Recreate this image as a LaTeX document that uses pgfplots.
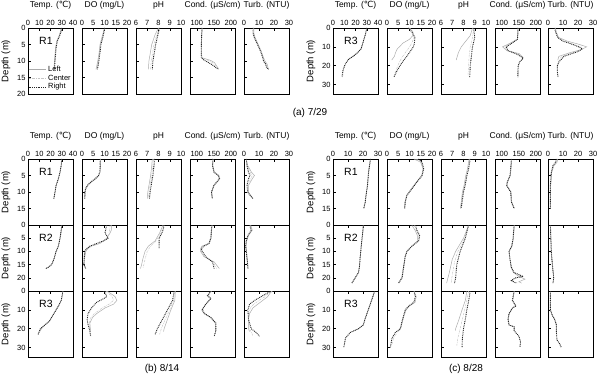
\documentclass[border=0pt]{standalone}
\usepackage{fontspec}
\setmainfont{Liberation Sans}
\newfontfamily\dejavu{DejaVu Sans}
\usepackage{pgfplots}
\pgfplotsset{compat=1.18}
\tikzset{rl/.style={font=\fontsize{10.5}{10.5}\selectfont, anchor=west}}
\pgfplotsset{
  panel/.style={scale only axis, width=45pt, height=66pt, anchor=north west,
    y dir=reverse, ymin=0, axis line style={black, line width=0.6pt},
    tick align=inside, major tick length=3pt, xtick pos=right, xticklabel pos=right,
    ytick pos=left, tick style={black, line width=0.5pt},
    ticklabel style={font=\fontsize{7.5}{7.5}\selectfont},
    /pgf/number format/assume math mode=true,
    title style={font=\fontsize{8.5}{8.5}\selectfont, at={(0.5,1)}, anchor=south, yshift=12.5pt, inner sep=0pt},
    ylabel style={font=\fontsize{9.5}{9.5}\selectfont},
    xticklabel style={yshift=-1pt}, yticklabel style={xshift=1pt}},
  nox/.style={xticklabels={}},
  noy/.style={yticklabels={}},
  T40/.style={xmin=0,xmax=40,xtick={0,10,20,30,40}},
  T30/.style={xmin=0,xmax=30,xtick={0,10,20,30}},
  DO/.style={xmin=0,xmax=20,xtick={0,5,10,15,20}},
  PH/.style={xmin=6,xmax=10,xtick={6,7,8,9,10}},
  CO/.style={xmin=80,xmax=212,xtick={100,150,200}},
  TU/.style={xmin=0,xmax=30,xtick={0,10,20,30}},
  ra/.style={ymax=20, ytick={0,5,10,15,20}},
  r1/.style={ymax=20, ytick={0,5,10,15}},
  r2/.style={ymax=25, ytick={0,5,10,15,20}},
  r3/.style={ymax=35, ytick={0,10,20,30}},
  L/.style={no marks, gray!65, line width=0.5pt},
  C/.style={no marks, gray!45, line width=0.5pt, dash pattern=on 2pt off 1pt on 0.5pt off 1pt},
  R/.style={no marks, black!85, line width=0.9pt, dash pattern=on 0.9pt off 0.9pt},
}
\begin{document}
\begin{tikzpicture}
% ================= (a) 7/29 R1 =================
\begin{axis}[panel,T40,ra,at={(28pt,-28pt)},title={Temp. ({\dejavu ℃})},ylabel={Depth (m)},
  legend style={draw=none, fill=none, at={(0.0,0.02)}, anchor=south west, font=\fontsize{7.5}{7.5}\selectfont, inner sep=0pt, row sep=-2pt}, legend cell align=left]
\addplot[L] coordinates {(29.5,0)(29,1)(27.5,2.5)(25.5,4)(24.5,6)(24,8)(23.5,10)(23,12.5)};
\addplot[C] coordinates {(30,0)(29,1)(27.5,2.5)(25.8,4)(24.8,6)(24.3,8)(23.8,10)(23.3,12.5)};
\addplot[R] coordinates {(30,0)(29.5,1)(28,2.5)(26,4)(25,6)(24.5,8)(24,10)(23.5,12.5)};
\legend{Left,Center,Right}
\node[rl] at (axis description cs:0.17,0.8) {R1};
\end{axis}
\begin{axis}[panel,DO,ra,noy,at={(82pt,-28pt)},title={DO (mg/L)}]
\addplot[L] coordinates {(10.2,0)(9.6,1)(8.8,3)(8.0,5)(7.5,8)(7.0,10)(6.4,12)(6.2,12.5)};
\addplot[C] coordinates {(10,0)(9.7,1)(9,3)(8.2,5)(7.7,8)(7.2,10)(6.7,12)(6.5,12.5)};
\addplot[R] coordinates {(10,0)(9.8,1)(9.2,3)(8.4,5)(7.9,8)(7.5,10)(7.0,12)(6.8,12.5)};
\end{axis}
\begin{axis}[panel,PH,ra,noy,at={(136pt,-28pt)},title={pH}]
\addplot[L] coordinates {(8.0,0)(7.7,2)(7.4,5)(7.25,8)(7.15,10)(7.1,12.5)};
\addplot[C] coordinates {(8.05,0)(7.85,2)(7.6,5)(7.45,8)(7.35,10)(7.3,12.5)};
\addplot[R] coordinates {(8.1,0)(7.95,2)(7.75,5)(7.6,8)(7.5,10)(7.45,12.5)};
\end{axis}
\begin{axis}[panel,CO,ra,noy,at={(190pt,-28pt)},title={Cond. (μS/cm)}]
\addplot[L] coordinates {(116,0)(114,3)(113,6)(115,9)(140,9.8)(152,10.5)(158,11.5)(165,12.5)};
\addplot[C] coordinates {(115,0)(114,3)(113,6)(114,9)(132,9.8)(146,10.5)(155,11.5)(164,12.5)};
\addplot[R] coordinates {(115,0)(114,3)(113,6)(113,9)(122,9.8)(135,10.5)(150,11.5)(162,12.5)};
\end{axis}
\begin{axis}[panel,TU,ra,noy,at={(244pt,-28pt)},title={Turb. (NTU)}]
\addplot[L] coordinates {(6.5,0)(6.5,1.5)(7.5,3)(9.5,5)(11.5,7)(13,9)(14,10)(15.5,11)(16,12)(16.5,12.5)};
\addplot[C] coordinates {(6.2,0)(6.2,1.5)(7.2,3)(9.2,5)(11.2,7)(12.8,9)(13.5,10)(15,11)(15.5,12)(16.5,12.5)};
\addplot[R] coordinates {(6,0)(6,1.5)(7,3)(9,5)(11,7)(12.5,9)(13,10)(14.5,11)(15,12)(16.5,12.5)};
\end{axis}
% ================= (a) 7/29 R3 =================
\begin{axis}[panel,T40,r3,at={(333pt,-28pt)},title={Temp. ({\dejavu ℃})},ylabel={Depth (m)}]
\addplot[L] coordinates {(30,0)(29,3)(27,7)(25,11)(22,13)(17.5,15)(13,17)};
\addplot[C] coordinates {(30,0)(29,3)(27,7)(25,11)(22,13)(18,15)(14,16.5)(11,19)(9.5,22)(8.5,26)};
\addplot[R] coordinates {(30,0)(29,3)(27,7)(25,11)(22,13)(18,15)(14,16.5)(11,19)(9,22)(8,26)};
\node[rl] at (axis description cs:0.17,0.8) {R3};
\end{axis}
\begin{axis}[panel,DO,r3,noy,at={(387pt,-28pt)},title={DO (mg/L)}]
\addplot[L] coordinates {(10,0)(11.5,2)(11.5,4)(10,6)(7.1,8)(5.5,10)(4.6,11)(3.8,13)(3.3,15)(2.1,17)};
\addplot[C] coordinates {(10,0)(11.5,2)(12,5)(11,8)(10,10)(8.5,12.5)(7,15)(5.5,18)(4.5,21)(3.5,24)(3.2,26)};
\addplot[R] coordinates {(9.5,0)(11,2)(12.4,5)(12.2,8)(11.7,10)(10.3,12.5)(8.8,15)(7.2,17.5)(5.8,20)(4.3,23)(3.1,26)};
\end{axis}
\begin{axis}[panel,PH,r3,noy,at={(441pt,-28pt)},title={pH}]
\addplot[L] coordinates {(8.8,0)(8.6,4)(8.2,7)(7.8,10)(7.55,13)(7.35,17)};
\addplot[C] coordinates {(8.9,0)(8.8,5)(8.6,10)(8.5,15)(8.45,20)(8.4,26)};
\addplot[R] coordinates {(8.9,0)(9.0,5)(8.8,10)(8.7,15)(8.6,20)(8.55,26)};
\end{axis}
\begin{axis}[panel,CO,r3,noy,at={(495pt,-28pt)},title={Cond. (μS/cm)}]
\addplot[L] coordinates {(148,0)(147,3)(145,6)(125,8)(102,10)(115,12)(150,13.5)(162,15.5)(158,17)};
\addplot[C] coordinates {(147,0)(147,3)(146,6)(128,8)(108,10)(117,12)(148,14)(162,16)(153,18)(149,20)(148,26)};
\addplot[R] coordinates {(147,0)(147,3)(146,6)(130,8)(113,10)(118,12)(146,14)(163,16)(152,18)(148,20)(147,23)(147,26)};
\end{axis}
\begin{axis}[panel,TU,r3,noy,at={(548pt,-28pt)},title={Turb. (NTU)}]
\addplot[L] coordinates {(5,0)(5.5,2)(7,5)(13,7)(20,8.5)(25.8,10)(22,11.5)(15,13)(7.3,15)(6.5,17)};
\addplot[C] coordinates {(4.7,0)(5.2,2)(6.7,5)(11,7)(16,8.5)(22,10)(22,11.5)(17,13)(9,15)(7,18)(6.3,20)(6.3,23)(6.8,26)};
\addplot[R] coordinates {(4.4,0)(5,2)(6.4,5)(10,7)(14,8)(19,9.5)(23,11)(20,12.5)(10.7,15)(7.3,18)(6.2,20)(6.2,23)(6.7,26)};
\end{axis}
\node[font=\fontsize{10}{10}\selectfont] at (310pt,-113pt) {(a) 7/29};
% ================= (b) 8/14 R1 =================
\begin{axis}[panel,T40,r1,at={(28pt,-159pt)},title={Temp. ({\dejavu ℃})},ylabel={Depth (m)}]
\addplot[L] coordinates {(30,0)(29.5,2)(28.5,4)(27,6)(25,8)(24,10)(23,12)};
\addplot[C] coordinates {(30,0)(29.5,2)(28.5,4)(27,6)(25,8)(24,10)(23,12)};
\addplot[R] coordinates {(30,0)(29.5,2)(28.5,4)(27,6)(25,8)(24,10)(23,12)};
\node[rl] at (axis description cs:0.17,0.8) {R1};
\end{axis}
\begin{axis}[panel,DO,r1,noy,at={(82pt,-159pt)},title={DO (mg/L)}]
\addplot[L] coordinates {(8.3,0)(8.3,2)(8.0,4)(7.5,5)(6.2,6)(4.2,7)(2.6,8)(1.8,9)(1.4,10)(1.3,12)};
\addplot[C] coordinates {(8.2,0)(8.2,2)(8.0,4)(7.4,5)(6,6)(4,7)(2.5,8)(1.7,9)(1.35,10)(1.25,12)};
\addplot[R] coordinates {(8,0)(8.1,2)(7.9,4)(7.3,5)(5.8,6)(3.8,7)(2.4,8)(1.6,9)(1.3,10)(1.2,12)};
\end{axis}
\begin{axis}[panel,PH,r1,noy,at={(136pt,-159pt)},title={pH}]
\addplot[L] coordinates {(7.45,0)(7.4,2)(7.3,5)(7.15,8)(7.05,10)(7.0,12)};
\addplot[C] coordinates {(7.55,0)(7.5,2)(7.4,5)(7.25,8)(7.15,10)(7.1,12)};
\addplot[R] coordinates {(7.65,0)(7.6,2)(7.5,5)(7.35,8)(7.25,10)(7.2,12)};
\end{axis}
\begin{axis}[panel,CO,r1,noy,at={(190pt,-159pt)},title={Cond. (μS/cm)}]
\addplot[L] coordinates {(148,0)(147,2)(152,4)(165,5)(168,6)(160,7)(151,8)(144,10)(146,12)};
\addplot[C] coordinates {(147,0)(146,2)(151,4)(164,5)(167,6)(159,7)(150,8)(143,10)(145,12)};
\addplot[R] coordinates {(147,0)(146,2)(150,4)(163,5)(166,6)(158,7)(150,8)(143,10)(145,12)};
\end{axis}
\begin{axis}[panel,TU,r1,noy,at={(244pt,-159pt)},title={Turb. (NTU)}]
\addplot[L] coordinates {(1.5,0)(2.5,2)(5,4)(7,5)(5.5,6)(3,8)(3,10)(4.5,11)(6,12)};
\addplot[C] coordinates {(1.5,0)(2.2,2)(4,4)(5.5,5)(4.5,6)(2.5,8)(2.8,10)(4.2,11)(6,12)};
\addplot[R] coordinates {(1.5,0)(2,2)(3,4)(4,5)(3,6)(2,8)(2.5,10)(4,11)(6,12)};
\end{axis}
% ================= (b) R2 =================
\begin{axis}[panel,T40,r2,nox,at={(28pt,-225pt)},ylabel={Depth (m)}]
\addplot[L] coordinates {(30,0)(29.5,2)(28.5,5)(27,8)(25,10)(23,13)(21,15)(18,16)(15.5,16.5)};
\addplot[C] coordinates {(30,0)(29.5,2)(28.5,5)(27,8)(25,10)(23,13)(21,15)(18,16)(16,16.5)};
\addplot[R] coordinates {(30,0)(29.5,2)(28.5,5)(27,8)(25,10)(23,13)(21,15)(18,16)(16,16.5)};
\node[rl] at (axis description cs:0.17,0.8) {R2};
\end{axis}
\begin{axis}[panel,DO,r2,nox,noy,at={(82pt,-225pt)}]
\addplot[L] coordinates {(13.2,0)(13,2)(12.5,3)(11,5)(9.5,6)(8,7)(4.2,8)(2.5,9)(1.7,10)(1,13)(0.8,15)(1.7,16.5)};
\addplot[C] coordinates {(12.5,0)(12.3,2)(12,3)(11.5,5)(10,6)(7.5,7)(4,8)(2.2,9)(1.5,10)(0.9,15)(1.7,16.5)};
\addplot[R] coordinates {(11,0)(10.5,2)(10.2,3)(11.7,5)(9.5,6)(6.5,7)(3.5,8)(2,9)(1.2,10)(0.8,15)(1.7,16.5)};
\end{axis}
\begin{axis}[panel,PH,r2,nox,noy,at={(136pt,-225pt)}]
\addplot[L] coordinates {(8.4,0)(8.1,3)(7.7,6)(7.1,8)(6.8,10)(6.6,13)(6.5,15)(6.4,16.5)};
\addplot[C] coordinates {(8.5,0)(8.2,3)(7.8,6)(7.3,8)(7.0,10)(6.8,13)(6.7,15)(6.6,16.5)};
\addplot[R] coordinates {(8.5,0)(8.4,2)(8.25,3.5)(8.05,5)(8.05,7)(8.05,9)};
\end{axis}
\begin{axis}[panel,CO,r2,nox,noy,at={(190pt,-225pt)}]
\addplot[L] coordinates {(145,0)(142,5)(135,7)(115,8)(111,9)(111,10)(121,12)(151,14)(166,16.5)};
\addplot[C] coordinates {(144,0)(141,5)(135,7)(118,8)(112,9)(113,10)(123,12)(148,14)(158,16.5)};
\addplot[R] coordinates {(144,0)(141,5)(136,7)(121,8)(113,9)(116,10)(126,12)(146,14)(151,16.5)};
\end{axis}
\begin{axis}[panel,TU,r2,nox,noy,at={(244pt,-225pt)}]
\addplot[L] coordinates {(4.5,0)(5.5,2)(3,4)(1.8,6)(1.3,8)(1.7,10)(2.4,14)(2.8,16.5)};
\addplot[C] coordinates {(4,0)(5.2,2)(2.8,4)(1.6,6)(1.2,8)(1.6,10)(2.3,14)(2.7,16.5)};
\addplot[R] coordinates {(3.7,0)(4.8,2)(2.6,4)(1.5,6)(1.1,8)(1.5,10)(2.2,14)(2.6,16.5)};
\end{axis}
% ================= (b) R3 =================
\begin{axis}[panel,T40,r3,nox,at={(28pt,-291pt)},ylabel={Depth (m)}]
\addplot[L] coordinates {(31,0)(30.5,2)(29.5,5)(27,8)(25,10)(22,13)(19,16)(15,18)(12,20)(10.5,21.5)};
\addplot[C] coordinates {(31,0)(30.5,2)(29.5,5)(27,8)(25,10)(22,13)(19,16)(15,18)(11,20)(9,23)};
\addplot[R] coordinates {(31,0)(30.5,2)(29.5,5)(27,8)(25,10)(22,13)(19,16)(15,18)(11,20)(9,23)};
\node[rl] at (axis description cs:0.17,0.8) {R3};
\end{axis}
\begin{axis}[panel,DO,r3,nox,noy,at={(82pt,-291pt)}]
\addplot[L] coordinates {(11,0)(13,1.5)(14.7,3)(15.5,5)(14,7)(10.2,9)(6.5,12)(4.7,14)(3.5,17)(3.8,21.5)};
\addplot[C] coordinates {(10.5,0)(12,1.5)(13.5,3)(14,5)(12,7)(9,9)(5.5,12)(4,14)(3.2,17)(3.5,21)(4,24)};
\addplot[R] coordinates {(9.5,0)(10.5,1.5)(11,3)(9,4.5)(6.5,6)(4.2,9)(2.7,12)(2.3,15)(2.7,18)(3.5,21)(3.8,24)};
\end{axis}
\begin{axis}[panel,PH,r3,nox,noy,at={(136pt,-291pt)}]
\addplot[L] coordinates {(9.5,0)(9.45,5)(9.1,10)(8.8,15)(8.5,20)(8.45,21.5)};
\addplot[C] coordinates {(9.45,0)(9.35,5)(9.0,10)(8.6,15)(8.25,20)(8.1,23)};
\addplot[R] coordinates {(9.4,0)(9.25,5)(8.8,10)(8.35,15)(7.9,20)(7.7,23)};
\end{axis}
\begin{axis}[panel,CO,r3,nox,noy,at={(190pt,-291pt)}]
\addplot[L] coordinates {(143,0)(133,2.5)(142,4)(127,7)(114,10)(121,12)(140,14)(154,17)(155,21.5)};
\addplot[C] coordinates {(142,0)(132,2.5)(141,4)(126,7)(115,10)(122,12)(141,14)(155,17)(156,21)(151,24)};
\addplot[R] coordinates {(141,0)(131,2.5)(141,4)(126,7)(116,10)(123,12)(141,14)(156,17)(156,21)(151,24)};
\end{axis}
\begin{axis}[panel,TU,r3,nox,noy,at={(244pt,-291pt)}]
\addplot[L] coordinates {(19,0)(17.5,1)(15.8,3)(12.5,5)(9.2,7)(5.9,9)(3.7,12)(3,15)(3,20)(3.7,21.5)};
\addplot[C] coordinates {(18.5,0)(17,1)(14,3)(10,5)(6.5,7)(4.2,9)(3.2,12)(3,15)(3.5,20)(5,22)(6,24)};
\addplot[R] coordinates {(18,0)(15.8,1)(11.4,3)(7,5)(3.7,7)(2.6,10)(3,15)(4.8,20)(8.1,22)(10.3,24)};
\end{axis}
% ================= (c) 8/28 R1 =================
\begin{axis}[panel,T30,r1,at={(333pt,-159pt)},title={Temp. ({\dejavu ℃})},ylabel={Depth (m)}]
\addplot[L] coordinates {(25,0)(24,3)(23.5,5)(23,8)(22.3,10)(21.5,13)(20.5,15)};
\addplot[C] coordinates {(25,0)(24,3)(23.5,5)(23,8)(22.3,10)(21.5,13)(20.5,15)};
\addplot[R] coordinates {(25,0)(24,3)(23.5,5)(23,8)(22.3,10)(21.5,13)(20.5,15)};
\node[rl] at (axis description cs:0.17,0.8) {R1};
\end{axis}
\begin{axis}[panel,DO,r1,noy,at={(387pt,-159pt)},title={DO (mg/L)}]
\addplot[L] coordinates {(12,0)(15,1)(16,3)(15.4,5)(13,7)(10.8,9)(8.7,11)(8,13)(7.8,15)};
\addplot[C] coordinates {(13,0)(15.3,1)(16.2,3)(15.5,5)(13.2,7)(11,9)(8.8,11)(8,13)(7.8,15)};
\addplot[R] coordinates {(14,0)(15.6,1)(16.3,3)(15.6,5)(13.3,7)(11.1,9)(8.9,11)(8.1,13)(7.9,15)};
\end{axis}
\begin{axis}[panel,PH,r1,noy,at={(441pt,-159pt)},title={pH}]
\addplot[L] coordinates {(8.5,0)(8.35,3)(8.2,5)(8.05,8)(7.9,10)(7.8,13)(7.72,15)};
\addplot[C] coordinates {(8.55,0)(8.4,3)(8.25,5)(8.1,8)(7.95,10)(7.83,13)(7.76,15)};
\addplot[R] coordinates {(8.6,0)(8.45,3)(8.3,5)(8.15,8)(8.0,10)(7.87,13)(7.8,15)};
\end{axis}
\begin{axis}[panel,CO,r1,noy,at={(495pt,-159pt)},title={Cond. (μS/cm)}]
\addplot[L] coordinates {(129,0)(127,3)(125,5)(117,7)(115,8)(121,9)(127,10)(129,13)(137,15)};
\addplot[C] coordinates {(128,0)(126,3)(124,5)(116,7)(114,8)(120,9)(126,10)(128,13)(136,15)};
\addplot[R] coordinates {(128,0)(126,3)(124,5)(116,7)(114,8)(120,9)(126,10)(128,13)(136,15)};
\end{axis}
\begin{axis}[panel,TU,r1,noy,at={(548pt,-159pt)},title={Turb. (NTU)}]
\addplot[L] coordinates {(6.5,0)(6,1)(4,2)(2.5,4)(1.8,8)(1.8,15)};
\addplot[C] coordinates {(6,0)(5.5,1)(3.6,2)(2.3,4)(1.7,8)(1.7,15)};
\addplot[R] coordinates {(5.6,0)(5.1,1)(3.3,2)(2.2,4)(1.6,8)(1.6,15)};
\end{axis}
% ================= (c) R2 =================
\begin{axis}[panel,T30,r2,nox,at={(333pt,-225pt)},ylabel={Depth (m)}]
\addplot[L] coordinates {(20.2,0)(19.8,3)(19,7)(18.5,10)(18,13)(17.6,16)(17,18)(14.8,20)(12.6,22)};
\addplot[C] coordinates {(20.2,0)(19.8,3)(19,7)(18.5,10)(18,13)(17.6,16)(17,18)(14.8,20)(12.6,22)};
\addplot[R] coordinates {(20.2,0)(19.8,3)(19,7)(18.5,10)(18,13)(17.6,16)(17,18)(14.8,20)(12.6,22)};
\node[rl] at (axis description cs:0.17,0.8) {R2};
\end{axis}
\begin{axis}[panel,DO,r2,nox,noy,at={(387pt,-225pt)}]
\addplot[L] coordinates {(11,0)(12.5,2)(13.5,4)(13.5,6)(11,8)(8.7,10)(8,12)(7.3,16)(6.5,20)(5,22)};
\addplot[C] coordinates {(12,0)(13,2)(14,4)(13.8,6)(11,8)(8.8,10)(8,12)(7.3,16)(6.6,20)(5.1,22)};
\addplot[R] coordinates {(12.6,0)(13.3,2)(14.5,4)(14.1,6)(11.1,8)(8.9,10)(8.1,12)(7.4,16)(6.7,20)(5.2,22)};
\end{axis}
\begin{axis}[panel,PH,r2,nox,noy,at={(441pt,-225pt)}]
\addplot[L] coordinates {(8.46,0)(8.0,5)(7.3,10)(7.0,13)(6.74,18)(6.5,22)};
\addplot[C] coordinates {(8.46,0)(8.1,5)(7.5,10)(7.2,14)(7.0,19)(6.9,22)};
\addplot[R] coordinates {(8.46,0)(8.16,5)(7.7,10)(7.4,15)(7.3,20)(7.2,22)};
\end{axis}
\begin{axis}[panel,CO,r2,nox,noy,at={(495pt,-225pt)}]
\addplot[L] coordinates {(137,0)(134,5)(130,8)(122,10)(124,13)(127,16)(134,18)(150,19.5)(168,20.5)(150,21.5)(158,22)};
\addplot[C] coordinates {(136,0)(133,5)(129,8)(121,10)(124,13)(128,16)(135,18)(158,19.5)(135,20.5)(130,21.5)(150,22)};
\addplot[R] coordinates {(136,0)(133,5)(129,8)(121,10)(124,13)(128,16)(136,18)(163,19.5)(140,20)(128,21)(142,22)};
\end{axis}
\begin{axis}[panel,TU,r2,nox,noy,at={(548pt,-225pt)}]
\addplot[L] coordinates {(1.6,0)(2.2,10)(2.9,15)(3.8,20)(3.3,22)};
\addplot[C] coordinates {(1.6,0)(2.2,10)(2.9,15)(3.8,20)(3.3,22)};
\addplot[R] coordinates {(1.6,0)(2.2,10)(2.9,15)(3.8,20)(3.3,22)};
\end{axis}
% ================= (c) R3 =================
\begin{axis}[panel,T30,r3,nox,at={(333pt,-291pt)},ylabel={Depth (m)}]
\addplot[L] coordinates {(27.8,0)(25.7,5)(23.5,10)(21.3,15)(20.2,18)(17,20)(13,21.5)};
\addplot[C] coordinates {(27.8,0)(25.7,5)(23.5,10)(21.3,15)(20.2,18)(17,20)(11.5,22)(8.3,25)(7.3,29)};
\addplot[R] coordinates {(27.8,0)(25.7,5)(23.5,10)(21.3,15)(20.2,18)(17,20)(11.5,22)(8.3,25)(7.2,30)};
\node[rl] at (axis description cs:0.17,0.8) {R3};
\end{axis}
\begin{axis}[panel,DO,r3,nox,noy,at={(387pt,-291pt)}]
\addplot[L] coordinates {(12,0)(13,3)(12.5,6)(10,8)(8.5,10)(7.6,13)(6.9,16)(6.2,19.5)(5.5,21)};
\addplot[C] coordinates {(12,0)(12.8,3)(12.2,6)(9.8,8)(8.3,10)(7.5,13)(6.8,16)(6,20)(4.5,22)(3,25)(2,29)};
\addplot[R] coordinates {(11.9,0)(12.6,3)(11.9,6)(9.6,8)(8.1,10)(7.4,13)(6.7,16)(5.9,20)(3.7,22)(2.2,25)(1.5,30)};
\end{axis}
\begin{axis}[panel,PH,r3,nox,noy,at={(441pt,-291pt)}]
\addplot[L] coordinates {(8.3,0)(8.16,5)(7.87,10)(7.6,15)(7.3,20)(7.27,21)};
\addplot[C] coordinates {(8.45,0)(8.3,5)(8.1,10)(7.9,15)(7.7,20)(7.5,25)(7.4,29)};
\addplot[R] coordinates {(8.6,0)(8.46,5)(8.3,10)(8.16,15)(8.0,20)(7.9,25)(7.87,30)};
\end{axis}
\begin{axis}[panel,CO,r3,nox,noy,at={(495pt,-291pt)}]
\addplot[L] coordinates {(137,0)(132,5)(142,8)(132,9)(122,12)(119,15)(122,18)(137,19)(137,21)};
\addplot[C] coordinates {(136,0)(131,5)(141,8)(131,9)(121,12)(118,15)(121,18)(136,19)(136,21)(150,24)(155,27)(153,29)};
\addplot[R] coordinates {(136,0)(131,5)(141,8)(131,9)(121,12)(118,15)(121,18)(136,19)(136,21)(150,24)(155,27)(153,30)};
\end{axis}
\begin{axis}[panel,TU,r3,nox,noy,at={(548pt,-291pt)}]
\addplot[L] coordinates {(1.6,0)(1.6,10)(2.9,13)(4.4,15)(5.6,18)(5.6,21)};
\addplot[C] coordinates {(1.6,0)(1.6,10)(2.9,13)(4.4,15)(5.6,18)(5.6,22)(6,26)(7.8,28)(8.9,29.5)};
\addplot[R] coordinates {(1.6,0)(1.6,10)(2.9,13)(4.4,15)(5.6,18)(5.6,22)(6,26)(7.8,28)(8.9,30)};
\end{axis}
\node[font=\fontsize{10}{10}\selectfont, anchor=south, inner sep=0pt] at (162pt,-373.5pt) {(b) 8/14};
\node[font=\fontsize{10}{10}\selectfont, anchor=south, inner sep=0pt] at (466pt,-373.5pt) {(c) 8/28};
\pgfresetboundingbox
\path[use as bounding box] (0,0) rectangle (597pt,-374pt);
\end{tikzpicture}
\end{document}
